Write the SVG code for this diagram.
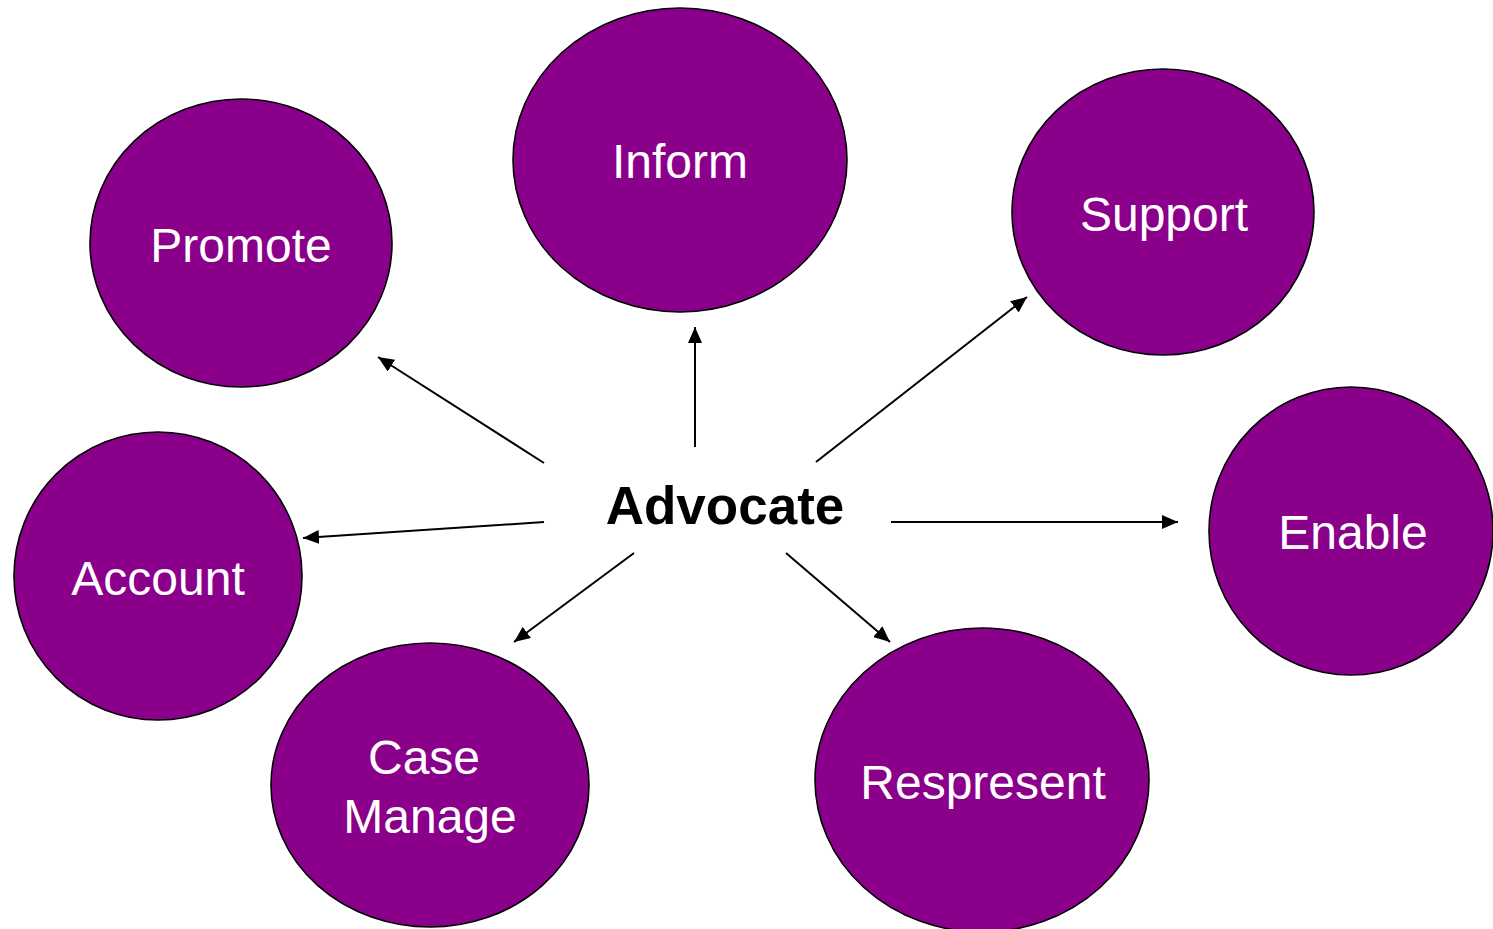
<svg xmlns="http://www.w3.org/2000/svg" width="1493" height="929" viewBox="0 0 1493 929">
  <style>
    .node { fill: #8B008B; stroke: #000; stroke-width: 1.6; }
    .label { fill: #fff; font-family: "Liberation Sans", Arial, sans-serif; font-size: 48px; text-anchor: middle; }
    .hub { fill: #000; font-family: "Liberation Sans", Arial, sans-serif; font-size: 53px; font-weight: bold; text-anchor: middle; }
    .link { stroke: #000; stroke-width: 2; fill: none; marker-end: url(#arrow); }
  </style>
  <defs>
    <marker id="arrow" viewBox="0 0 16 14" refX="16" refY="7" markerWidth="16" markerHeight="14" markerUnits="userSpaceOnUse" orient="auto">
      <path d="M0,0 L16,7 L0,14 z" fill="#000"/>
    </marker>
  </defs>
  <rect width="1493" height="929" fill="#fff"/>

  <g id="connectors">
    <line class="link" x1="544" y1="463" x2="378" y2="357"/>
    <line class="link" x1="695" y1="447" x2="695" y2="327"/>
    <line class="link" x1="816" y1="462" x2="1027" y2="297"/>
    <line class="link" x1="544" y1="522" x2="303" y2="538"/>
    <line class="link" x1="634" y1="553" x2="514" y2="642"/>
    <line class="link" x1="786" y1="553" x2="890" y2="642"/>
    <line class="link" x1="891" y1="522" x2="1178" y2="522"/>
  </g>

  <g id="node-inform">
    <ellipse class="node" cx="680" cy="160" rx="167" ry="152"/>
    <text class="label" x="680" y="178">Inform</text>
  </g>
  <g id="node-promote">
    <ellipse class="node" cx="241" cy="243" rx="151" ry="144"/>
    <text class="label" x="241" y="262">Promote</text>
  </g>
  <g id="node-support">
    <ellipse class="node" cx="1163" cy="212" rx="151" ry="143"/>
    <text class="label" x="1164" y="231">Support</text>
  </g>
  <g id="node-account">
    <ellipse class="node" cx="158" cy="576" rx="144" ry="144"/>
    <text class="label" x="158" y="595">Account</text>
  </g>
  <g id="node-enable">
    <ellipse class="node" cx="1351" cy="531" rx="142" ry="144"/>
    <text class="label" x="1353" y="549">Enable</text>
  </g>
  <g id="node-case-manage">
    <ellipse class="node" cx="430" cy="785" rx="159" ry="142"/>
    <text class="label" y="774"><tspan x="424">Case</tspan><tspan x="430" y="833">Manage</tspan></text>
  </g>
  <g id="node-respresent">
    <ellipse class="node" cx="982" cy="780" rx="167" ry="152"/>
    <text class="label" x="983" y="799">Respresent</text>
  </g>

  <g id="node-advocate">
    <text class="hub" x="725" y="524">Advocate</text>
  </g>
</svg>
